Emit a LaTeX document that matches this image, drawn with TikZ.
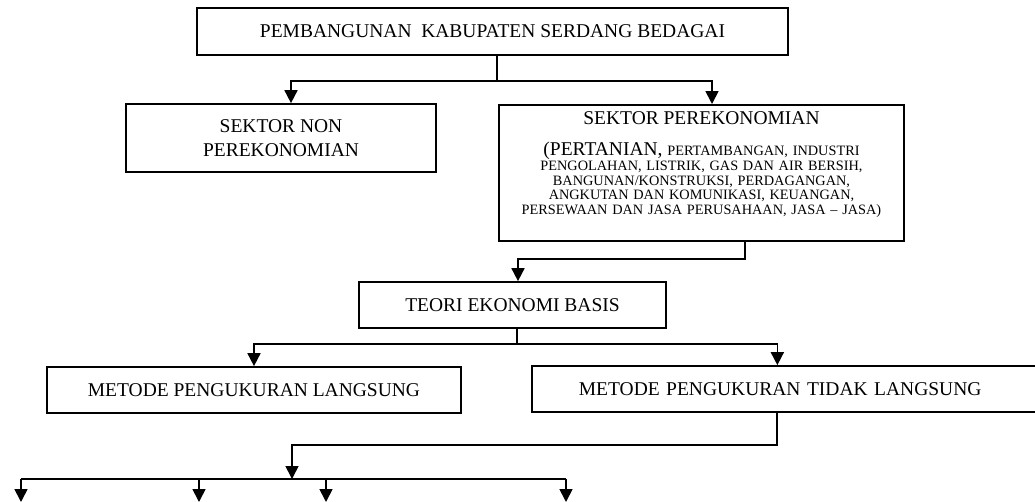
\documentclass[tikz,border=0pt]{standalone}
\usepackage{fontspec}
\setmainfont{Liberation Serif}
\usetikzlibrary{arrows.meta}

\newcommand{\bigtxt}{\fontsize{19.5}{24}\selectfont}
\newcommand{\smalltxt}{\fontsize{14.3}{14.6}\selectfont}

\begin{document}
\begin{tikzpicture}[x=1pt, y=-1pt,
	box/.style={draw, line width=1.7pt, inner sep=0pt, font=\bigtxt, align=center},
	link/.style={line width=1.7pt},
	arr/.style={link, -{Triangle[length=13pt,width=13pt]}}]
	\useasboundingbox (0,0) rectangle (1035,501);
	% sektor
	\node[box, minimum width=591, minimum height=47] (top) at (492.5,31.5) {PEMBANGUNAN\ \ KABUPATEN SERDANG BEDAGAI};
	\node[box, minimum width=310, minimum height=68] (non) at (281,138) {SEKTOR NON\\PEREKONOMIAN};
	\node[box, anchor=north, text width=395, inner xsep=5pt, text height=20pt, text depth=116pt, font=\smalltxt] (sektor) at (701.5,104)
		{{\bigtxt SEKTOR PEREKONOMIAN}\\[16.4pt]
		{\bigtxt (PERTANIAN,} PERTAMBANGAN, INDUSTRI\\
		PENGOLAHAN, LISTRIK, GAS DAN AIR BERSIH,\\
		BANGUNAN/KONSTRUKSI, PERDAGANGAN,\\
		ANGKUTAN DAN KOMUNIKASI, KEUANGAN,\\
		PERSEWAAN DAN JASA PERUSAHAAN, JASA -- JASA)};
	\draw[arr] ([xshift=4.5pt]top.south) -- ++(0,25) -| ([xshift=10pt]non.north);
	\draw[arr] ([xshift=4.5pt]top.south) -- ++(0,25) -| ([xshift=10.5pt]sektor.north);
	
	% teori dan metode
	\node[box, minimum width=307, minimum height=46] (teori) at (512.5,305) {TEORI EKONOMI BASIS};
	\node[box, minimum width=414, minimum height=46] (langsung) at (254,390) {METODE PENGUKURAN LANGSUNG};
	\node[box, anchor=west, text width=416, align=left, inner xsep=47pt, minimum height=46] (tidak) at (531,389) {METODE PENGUKURAN TIDAK LANGSUNG};
	\draw[arr] ([xshift=43.5pt]sektor.south) -- ++(0,17) -| ([xshift=5.5pt]teori.north);
	\draw[arr] ([xshift=4.5pt]teori.south) -- ++(0,15) -| (langsung.north);
	\draw[arr] ([xshift=4.5pt]teori.south) -- ++(0,15) -| ([xshift=-9.5pt]tidak.north);
	
	% cabang bawah
	\coordinate (split) at (292,479);
	\coordinate (b1) at (21,502);
	\coordinate (b2) at (199,502);
	\coordinate (b3) at (326,502);
	\coordinate (b4) at (566,502);
	\draw[arr] ([xshift=-10pt]tidak.south) -- ++(0,32) -| (split);
	\draw[link] (b1 |- split) -- (b4 |- split);
	\foreach \b in {b1,b2,b3,b4}
		\draw[arr] (\b |- split) -- (\b);
	
\end{tikzpicture}
\end{document}
